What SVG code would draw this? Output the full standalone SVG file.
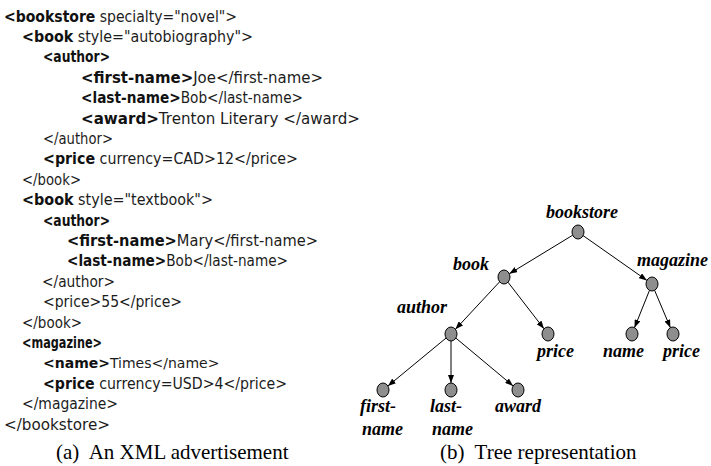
<svg xmlns="http://www.w3.org/2000/svg" width="711" height="466" viewBox="0 0 711 466">
<style>
.x{font-family:"DejaVu Sans",sans-serif;font-size:15px;fill:#1c1c1c}
.b{font-weight:bold;fill:#111}
.lbl{font-family:"Liberation Serif","Times New Roman",serif;font-size:18px;font-weight:bold;font-style:italic;fill:#000}
.cap{font-family:"Liberation Serif","Times New Roman",serif;font-size:21px;fill:#000;white-space:pre}
.n{fill:#8e8e8e;stroke:#000;stroke-width:1}
.e{stroke:#000;stroke-width:1;fill:none;marker-end:url(#ah)}
</style>
<defs>
<marker id="ah" markerWidth="8" markerHeight="6" refX="8" refY="3" orient="auto" markerUnits="userSpaceOnUse">
<path d="M0,0 L8,3 L0,6 z" fill="#000"/>
</marker>
</defs>
<rect width="711" height="466" fill="#fff"/>
<g id="xml-listing">
<text class="x" x="4" y="21.5" textLength="233" lengthAdjust="spacingAndGlyphs"><tspan class="b">&lt;bookstore</tspan> specialty="novel"&gt;</text>
<text class="x" x="22" y="41.9" textLength="231" lengthAdjust="spacingAndGlyphs"><tspan class="b">&lt;book</tspan> style="autobiography"&gt;</text>
<text class="x" x="43" y="62.3" textLength="67" lengthAdjust="spacingAndGlyphs"><tspan class="b">&lt;author&gt;</tspan></text>
<text class="x" x="81" y="82.7" textLength="242" lengthAdjust="spacingAndGlyphs"><tspan class="b">&lt;first-name&gt;</tspan>Joe&lt;/first-name&gt;</text>
<text class="x" x="81" y="103.1" textLength="222" lengthAdjust="spacingAndGlyphs"><tspan class="b">&lt;last-name&gt;</tspan>Bob&lt;/last-name&gt;</text>
<text class="x" x="81" y="123.5" textLength="279" lengthAdjust="spacingAndGlyphs"><tspan class="b">&lt;award&gt;</tspan>Trenton Literary &lt;/award&gt;</text>
<text class="x" x="43" y="143.9" textLength="70" lengthAdjust="spacingAndGlyphs">&lt;/author&gt;</text>
<text class="x" x="43" y="164.3" textLength="255" lengthAdjust="spacingAndGlyphs"><tspan class="b">&lt;price</tspan> currency=CAD&gt;12&lt;/price&gt;</text>
<text class="x" x="22" y="184.7" textLength="59" lengthAdjust="spacingAndGlyphs">&lt;/book&gt;</text>
<text class="x" x="22" y="205.1" textLength="191" lengthAdjust="spacingAndGlyphs"><tspan class="b">&lt;book</tspan> style="textbook"&gt;</text>
<text class="x" x="43" y="225.5" textLength="67" lengthAdjust="spacingAndGlyphs"><tspan class="b">&lt;author&gt;</tspan></text>
<text class="x" x="67" y="245.9" textLength="251" lengthAdjust="spacingAndGlyphs"><tspan class="b">&lt;first-name&gt;</tspan>Mary&lt;/first-name&gt;</text>
<text class="x" x="67" y="266.3" textLength="221" lengthAdjust="spacingAndGlyphs"><tspan class="b">&lt;last-name&gt;</tspan>Bob&lt;/last-name&gt;</text>
<text class="x" x="42" y="286.7" textLength="73" lengthAdjust="spacingAndGlyphs">&lt;/author&gt;</text>
<text class="x" x="43" y="307.1" textLength="139" lengthAdjust="spacingAndGlyphs">&lt;price&gt;55&lt;/price&gt;</text>
<text class="x" x="22" y="327.5" textLength="60" lengthAdjust="spacingAndGlyphs">&lt;/book&gt;</text>
<text class="x" x="22" y="347.9" textLength="80" lengthAdjust="spacingAndGlyphs"><tspan class="b">&lt;magazine&gt;</tspan></text>
<text class="x" x="43" y="368.3" style="font-size:14px"><tspan class="b">&lt;name&gt;</tspan>Times&lt;/name&gt;</text>
<text class="x" x="43" y="388.7" textLength="244" lengthAdjust="spacingAndGlyphs"><tspan class="b">&lt;price</tspan> currency=USD&gt;4&lt;/price&gt;</text>
<text class="x" x="22" y="409.1" textLength="96" lengthAdjust="spacingAndGlyphs">&lt;/magazine&gt;</text>
<text class="x" x="4" y="429.5" textLength="106" lengthAdjust="spacingAndGlyphs">&lt;/bookstore&gt;</text>
</g>
<g id="connectors">
<line class="e" x1="572.7" y1="235.2" x2="509.3" y2="273.8"/>
<line class="e" x1="583.1" y1="235.6" x2="646.9" y2="280.4"/>
<line class="e" x1="499.6" y1="281.8" x2="455.4" y2="329.3"/>
<line class="e" x1="508" y1="282.2" x2="544" y2="328.8"/>
<line class="e" x1="649.5" y1="290.3" x2="634.5" y2="327.7"/>
<line class="e" x1="654.6" y1="290.3" x2="670.4" y2="327.7"/>
<line class="e" x1="446.1" y1="338" x2="387.9" y2="386"/>
<line class="e" x1="451" y1="341" x2="451" y2="383"/>
<line class="e" x1="455.9" y1="338.1" x2="513.1" y2="385.9"/>
</g>
<g id="node-bookstore"><ellipse class="n" cx="578" cy="232" rx="6" ry="7"/><text class="lbl" x="546" y="218">bookstore</text></g>
<g id="node-book"><ellipse class="n" cx="504" cy="277" rx="6" ry="7"/><text class="lbl" x="453" y="270">book</text></g>
<g id="node-magazine"><ellipse class="n" cx="652" cy="284" rx="6" ry="7"/><text class="lbl" x="637" y="265.5">magazine</text></g>
<g id="node-author"><ellipse class="n" cx="451" cy="334" rx="6" ry="7"/><text class="lbl" x="397" y="313">author</text></g>
<g id="node-book-price"><ellipse class="n" cx="548" cy="334" rx="6" ry="7"/><text class="lbl" x="537" y="356.5">price</text></g>
<g id="node-name"><ellipse class="n" cx="632" cy="334" rx="6" ry="7"/><text class="lbl" x="603" y="356.5">name</text></g>
<g id="node-magazine-price"><ellipse class="n" cx="673" cy="334" rx="6" ry="7"/><text class="lbl" x="663" y="356.5">price</text></g>
<g id="node-first-name"><ellipse class="n" cx="383" cy="390" rx="6" ry="7"/><text class="lbl" x="360" y="411.5">first-</text><text class="lbl" x="362" y="435">name</text></g>
<g id="node-last-name"><ellipse class="n" cx="451" cy="390" rx="6" ry="7"/><text class="lbl" x="430" y="411.5">last-</text><text class="lbl" x="432" y="435">name</text></g>
<g id="node-award"><ellipse class="n" cx="518" cy="390" rx="6" ry="7"/><text class="lbl" x="495" y="411.5">award</text></g>
<g id="captions">
<text class="cap" x="56" y="459">(a)  An XML advertisement</text>
<text class="cap" x="440" y="459">(b)  Tree representation</text>
</g>
</svg>
